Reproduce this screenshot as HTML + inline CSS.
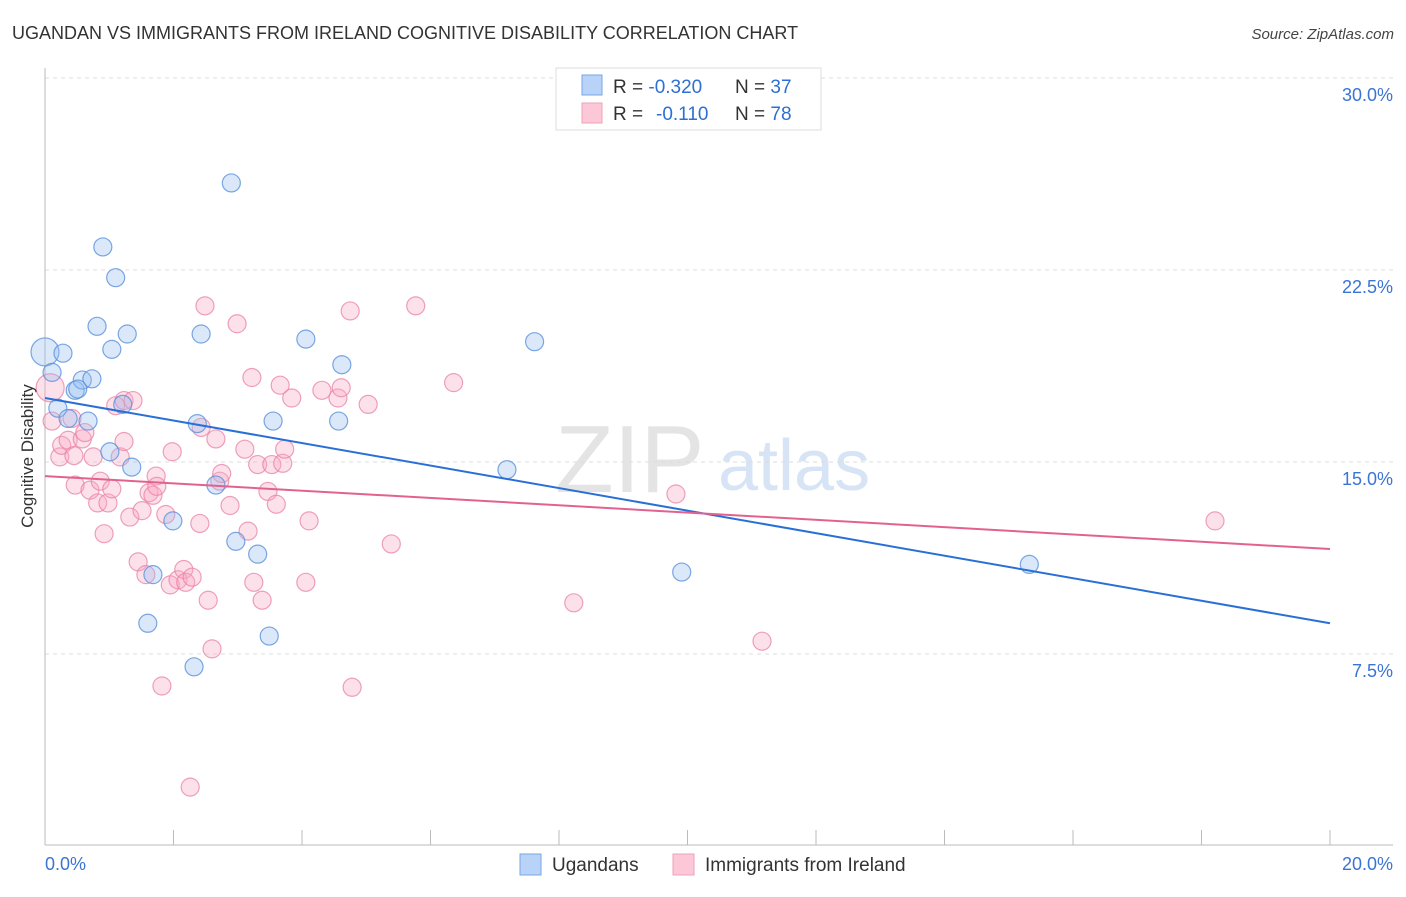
<!DOCTYPE html>
<html><head><meta charset="utf-8"><style>
body{margin:0;background:#fff;font-family:"Liberation Sans",sans-serif;}
svg text{font-family:"Liberation Sans",sans-serif;}
</style></head><body>
<svg id="chart" width="1406" height="892" viewBox="0 0 1406 892">
<text x="12" y="39" font-size="18" fill="#333">UGANDAN VS IMMIGRANTS FROM IRELAND COGNITIVE DISABILITY CORRELATION CHART</text>
<text x="1394" y="39" font-size="15" fill="#444" text-anchor="end" font-style="italic">Source: ZipAtlas.com</text>
<text x="555" y="492" font-size="96" fill="#e4e4e4" font-family="Liberation Serif">ZIP</text>
<text x="718" y="490" font-size="72" fill="#d6e4f5">atlas</text>
<g id="grid"></g>
<g id="pts"></g>
<g id="lines"></g>
<text transform="translate(33,456) rotate(-90)" font-size="17" fill="#333" text-anchor="middle">Cognitive Disability</text>
<g>
<rect x="556" y="68" width="265" height="62" fill="#fff" stroke="#ddd"/>
<rect x="582" y="75" width="20" height="20" fill="#b8d3f7" stroke="#7aa6e6"/>
<rect x="582" y="103" width="20" height="20" fill="#fcc8d8" stroke="#eea0ba"/>
<text x="613" y="93" font-size="19" fill="#333">R = <tspan fill="#2d6fd3">-0.320</tspan><tspan x="735">N = </tspan><tspan fill="#2d6fd3">37</tspan></text>
<text x="613" y="120" font-size="19" fill="#333">R = <tspan x="656" fill="#2d6fd3">-0.110</tspan><tspan x="735">N = </tspan><tspan fill="#2d6fd3">78</tspan></text>
</g>
<g>
<rect x="520" y="854" width="21" height="21" fill="#b8d3f7" stroke="#7aa6e6"/>
<text x="552" y="871" font-size="19" fill="#333">Ugandans</text>
<rect x="673" y="854" width="21" height="21" fill="#fcc8d8" stroke="#eea0ba"/>
<text x="705" y="871" font-size="19" fill="#333">Immigrants from Ireland</text>
</g>
</svg>
<script>
const yTicks=[7.5,15,22.5,30];
const yTickLabels=["7.5%","15.0%","22.5%","30.0%"];
const xTickLabels=["0.0%","20.0%"];
const ugX=[0,0.28,0.11,0.2,0.36,0.47,0.58,0.51,0.73,0.67,0.81,0.9,1.04,1.1,1.28,1.01,1.35,1.21,1.68,1.6,1.99,2.32,2.37,2.43,2.66,2.9,2.97,3.31,3.49,3.55,4.06,4.62,4.57,7.19,7.62,9.91,15.32];
const ugY=[19.3,19.25,18.5,17.1,16.7,17.8,18.2,17.85,18.25,16.6,20.3,23.4,19.4,22.2,20.0,15.4,14.8,17.25,10.6,8.7,12.7,7.0,16.5,20.0,14.1,25.9,11.9,11.4,8.2,16.6,19.8,18.8,16.6,14.7,19.7,10.7,11.0];
const irX=[0.08,0.11,0.23,0.26,0.36,0.42,0.47,0.45,0.58,0.62,0.7,0.75,0.82,0.86,0.92,0.98,1.04,1.1,1.17,1.23,1.23,1.32,1.37,1.45,1.51,1.57,1.62,1.68,1.73,1.74,1.82,1.88,1.95,1.98,2.07,2.16,2.19,2.26,2.29,2.41,2.43,2.49,2.54,2.6,2.66,2.72,2.75,2.88,2.99,3.11,3.16,3.22,3.25,3.31,3.38,3.47,3.53,3.6,3.66,3.7,3.73,3.84,4.06,4.11,4.31,4.56,4.61,4.75,4.78,5.03,5.39,5.77,6.36,8.23,9.82,11.16,18.21];
const irY=[17.9,16.6,15.2,15.65,15.85,16.7,14.1,15.25,15.9,16.15,13.9,15.2,13.4,14.25,12.2,13.4,13.95,17.2,15.2,15.8,17.4,12.85,17.4,11.1,13.1,10.6,13.8,13.7,14.45,14.05,6.25,12.95,10.2,15.4,10.4,10.8,10.3,2.3,10.5,12.6,16.35,21.1,9.6,7.7,15.9,14.25,14.55,13.3,20.4,15.5,12.3,18.3,10.3,14.9,9.6,13.85,14.9,13.35,18.0,14.95,15.5,17.5,10.3,12.7,17.8,17.5,17.9,20.9,6.2,17.25,11.8,21.1,18.1,9.5,13.75,8.0,12.7];
const ugTrend=[17.5,8.7];
const irTrend=[14.45,11.6];
const NS="http://www.w3.org/2000/svg";
const X0=45,X1=1330,Y0=846;
const xs=v=>X0+(v/20)*(X1-X0);
const ys=v=>Y0-v*25.6;
function mk(t,a,p){const e=document.createElementNS(NS,t);for(const k in a)e.setAttribute(k,a[k]);p.appendChild(e);return e;}
const g=document.getElementById('grid');
yTicks.forEach((t,i)=>{
 const l=mk('line',{x1:45,x2:1393,y1:ys(t),y2:ys(t),stroke:'#ddd','stroke-dasharray':'4,4'},g);
 
 
 const tx=mk('text',{x:1393,y:ys(t)+23,'font-size':18,fill:'#3a74d4','text-anchor':'end'},g);
 tx.textContent=yTickLabels[i];
 
 
});
const ax=mk('line',{x1:45,x2:1393,y1:845,y2:845,stroke:'#bbb'},g);


const ay=mk('line',{x1:45,x2:45,y1:68,y2:845,stroke:'#bbb'},g);


for(let i=0;i<=10;i++){
 const t=mk('line',{x1:xs(i*2),x2:xs(i*2),y1:830,y2:845,stroke:'#bbb'},g);
 
 
}
[[0,'start',45],[20,'end',1393]].forEach((d,i)=>{
 const t=mk('text',{x:d[2],y:870,'font-size':18,fill:'#3a74d4','text-anchor':d[1]},g);
 t.textContent=xTickLabels[i];
 
 
});
const p=document.getElementById('pts');
irX.forEach((x,i)=>{
 const c=mk('circle',{cx:xs(x),cy:ys(irY[i]),r:i==0?14:9,fill:'rgba(248,170,195,0.35)',stroke:'rgba(232,130,165,0.75)','stroke-width':1.2},p);
 
 
});
ugX.forEach((x,i)=>{
 const c=mk('circle',{cx:xs(x),cy:ys(ugY[i]),r:i==0?14:9,fill:'rgba(150,190,240,0.35)',stroke:'rgba(90,145,220,0.8)','stroke-width':1.2},p);
 
 
});
const L=document.getElementById('lines');
const l1=mk('line',{x1:xs(0),x2:xs(20),y1:ys(ugTrend[0]),y2:ys(ugTrend[1]),stroke:'#2a6fd6','stroke-width':2},L);


const l2=mk('line',{x1:xs(0),x2:xs(20),y1:ys(irTrend[0]),y2:ys(irTrend[1]),stroke:'#e2628f','stroke-width':2},L);


</script>
</body></html>
